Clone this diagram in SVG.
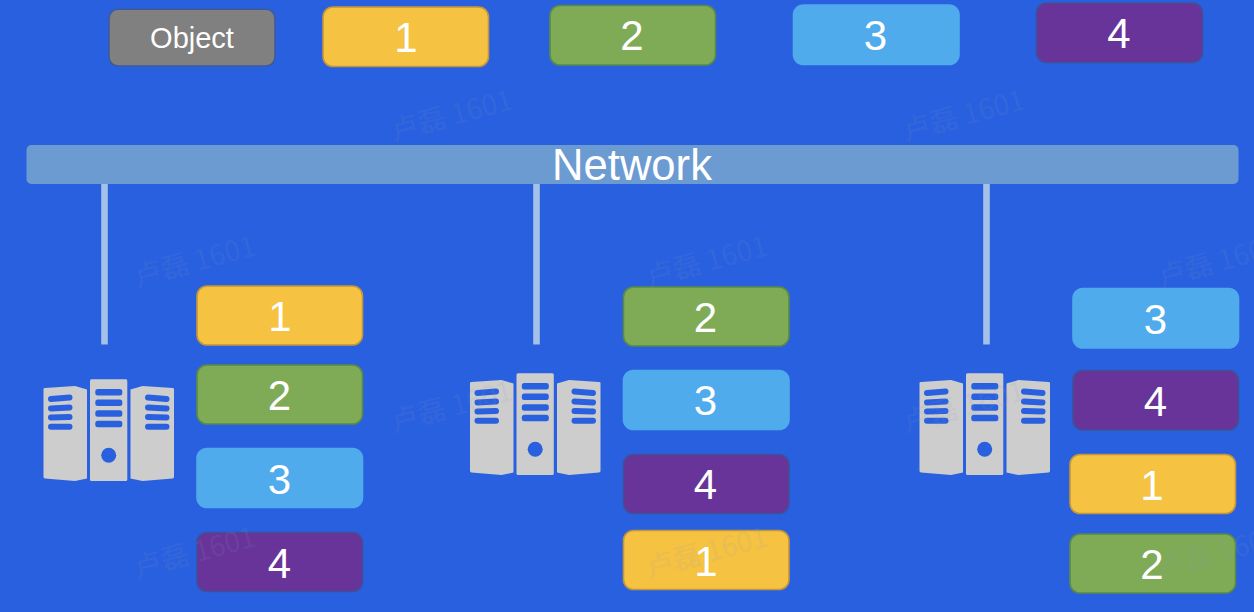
<svg xmlns="http://www.w3.org/2000/svg" xmlns:xlink="http://www.w3.org/1999/xlink" width="1254" height="612" viewBox="0 0 1254 612">
<style>
.box{stroke-width:1.6}
.y{fill:#F5C242;stroke:#C4963A}
.g{fill:#7FAB57;stroke:#5A8A46}
.b{fill:#4FABEC;stroke:#4FABEC}
.p{fill:#68349A;stroke:#3F5098}
.o{fill:#808080;stroke:#3F5A9A}
text{font-family:"Liberation Sans",Arial,sans-serif;fill:#fff;text-anchor:middle}
.d{font-size:42px}
.wm{font-family:"Noto Sans CJK SC","Liberation Sans",sans-serif;font-size:28px;font-weight:400;fill:#8C9CC0;opacity:.11;text-anchor:start}
.link{stroke:#A4C2E8;stroke-width:6.6;fill:none}
.srv{fill:#CDCDCD}
.hole{fill:#2960DF}
.bar{stroke:#2960DF;stroke-width:6;stroke-linecap:round;fill:none}
</style>
<defs>
<g id="server">
<path class="srv" d="M43.5 389Q43.5 388 45 388L75 386L87 389.5V478.5L75 481L45 478.5Q43.5 478 43.5 477Z"/>
<rect class="srv" x="90" y="379.3" width="37.3" height="101.7" rx="1.5"/>
<path class="srv" d="M174 389Q174 388 172.500 388L142.500 386L130.500 389.500V478.500L142.500 481L172.500 478.500Q174 478 174 477Z"/>
<g class="hole">
<rect x="95.300" y="389" width="27" height="6.500" rx="2.500"/>
<rect x="95.300" y="399.500" width="27" height="6.500" rx="2.500"/>
<rect x="95.300" y="410.200" width="27" height="6.500" rx="2.500"/>
<rect x="95.300" y="420.800" width="27" height="6.500" rx="2.500"/>
<circle cx="108.700" cy="455.300" r="7.500"/>
</g>
<g class="bar">
<path d="M51 399L69.500 397.600"/>
<path d="M51 408.400L69.500 407.400"/>
<path d="M51 417.500L69.500 417"/>
<path d="M51 426.800H69.500"/>
<path d="M148 397.600L166.500 399"/>
<path d="M148 407.400L166.500 408.400"/>
<path d="M148 417L166.500 417.500"/>
<path d="M148 426.800H166.500"/>
</g>
</g>
</defs>
<rect width="1254" height="612" fill="#2960DF"/>

<g id="network"><rect x="26.500" y="145" width="1212" height="39" rx="5" fill="#6B9BD1"/><text x="632" y="180" font-size="43.600">Network</text></g>

<g id="connectors">
<line class="link" x1="104.500" y1="184" x2="104.500" y2="344.500"/>
<line class="link" x1="536.500" y1="184" x2="536.500" y2="344.500"/>
<line class="link" x1="986.500" y1="184" x2="986.500" y2="344.500"/>
</g>

<g id="legend-object"><rect class="box o" x="109" y="9.300" width="166" height="56.700" rx="9"/><text x="192" y="47.500" font-size="29">Object</text></g>
<g id="legend-1"><rect class="box y" x="323" y="7" width="165.500" height="59.500" rx="10"/><text class="d" x="406" y="52">1</text></g>
<g id="legend-2"><rect class="box g" x="550" y="5.500" width="165.500" height="59.500" rx="10"/><text class="d" x="632" y="50">2</text></g>
<g id="legend-3"><rect class="box b" x="793.500" y="5" width="165.500" height="59.500" rx="10"/><text class="d" x="875.500" y="50">3</text></g>
<g id="legend-4"><rect class="box p" x="1036.500" y="3" width="166" height="59.500" rx="10"/><text class="d" x="1119" y="48">4</text></g>

<g id="server-1"><use xlink:href="#server" href="#server"/></g>
<g id="server-2"><use xlink:href="#server" href="#server" transform="translate(426.500 -6)"/></g>
<g id="server-3"><use xlink:href="#server" href="#server" transform="translate(876 -6)"/></g>

<g id="s1-1"><rect class="box y" x="197" y="286" width="165.500" height="59" rx="10"/><text class="d" x="280" y="331">1</text></g>
<g id="s1-2"><rect class="box g" x="197" y="365" width="165.500" height="59" rx="10"/><text class="d" x="279.500" y="409.500">2</text></g>
<g id="s1-3"><rect class="box b" x="197" y="448.500" width="165.500" height="59" rx="10"/><text class="d" x="279.500" y="493.500">3</text></g>
<g id="s1-4"><rect class="box p" x="197" y="532.500" width="165.500" height="59" rx="10"/><text class="d" x="279.500" y="577.500">4</text></g>

<g id="s2-2"><rect class="box g" x="623.500" y="287" width="165.500" height="59" rx="10"/><text class="d" x="705.500" y="331.500">2</text></g>
<g id="s2-3"><rect class="box b" x="623.500" y="370.500" width="165.500" height="59" rx="10"/><text class="d" x="705.500" y="415">3</text></g>
<g id="s2-4"><rect class="box p" x="623.500" y="454.500" width="165.500" height="59" rx="10"/><text class="d" x="705.500" y="499">4</text></g>
<g id="s2-1"><rect class="box y" x="623.500" y="530.500" width="165.500" height="59" rx="10"/><text class="d" x="706" y="576">1</text></g>

<g id="s3-3"><rect class="box b" x="1073" y="288.500" width="165.500" height="59.500" rx="10"/><text class="d" x="1155.500" y="334">3</text></g>
<g id="s3-4"><rect class="box p" x="1073" y="370.500" width="165.500" height="59.500" rx="10"/><text class="d" x="1155.500" y="415.500">4</text></g>
<g id="s3-1"><rect class="box y" x="1070" y="454.500" width="165.500" height="59" rx="10"/><text class="d" x="1152" y="499.500">1</text></g>
<g id="s3-2"><rect class="box g" x="1070" y="534" width="165.500" height="59" rx="10"/><text class="d" x="1152" y="578.500">2</text></g>

<g id="watermark">
<text class="wm" transform="translate(394 141) rotate(-15)">卢磊 1601</text>
<text class="wm" transform="translate(906 141) rotate(-15)">卢磊 1601</text>
<text class="wm" transform="translate(137 287) rotate(-15)">卢磊 1601</text>
<text class="wm" transform="translate(649 287) rotate(-15)">卢磊 1601</text>
<text class="wm" transform="translate(1161 287) rotate(-15)">卢磊 1601</text>
<text class="wm" transform="translate(394 432) rotate(-15)">卢磊 1601</text>
<text class="wm" transform="translate(906 432) rotate(-15)">卢磊 1601</text>
<text class="wm" transform="translate(137 578) rotate(-15)">卢磊 1601</text>
<text class="wm" transform="translate(649 578) rotate(-15)">卢磊 1601</text>
<text class="wm" transform="translate(1161 578) rotate(-15)">卢磊 1601</text>
</g>
</svg>
